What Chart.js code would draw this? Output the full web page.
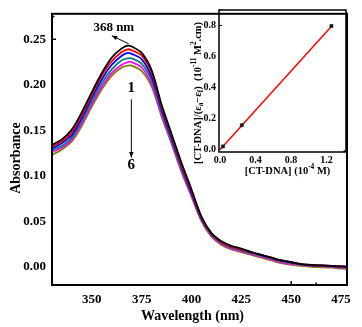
<!DOCTYPE html>
<html>
<head>
<meta charset="utf-8">
<script src="https://cdn.jsdelivr.net/npm/chart.js@4.4.1/dist/chart.umd.min.js"></script>
<style>
  html, body { margin: 0; padding: 0; background: #fff; }
  #wrap { position: relative; width: 362px; height: 327px; }
  #main { position: absolute; left: 0; top: 0; }
  #inset { position: absolute; left: 186px; top: 0; }
</style>
</head>
<body>
<div id="wrap">
  <canvas id="main" width="362" height="327"></canvas>
  <canvas id="inset" width="166" height="180"></canvas>
</div>
<script>
// spectra (absorbance vs wavelength), 6 titration steps
const wavelengths = [330, 335, 340, 345, 350, 355, 360, 365, 368, 370, 375, 380, 385, 390, 395, 400,
  405, 410, 415, 420, 425, 430, 435, 440, 445, 450, 455, 460, 465, 470, 475, 478];

const abs1 = [.134, .140, .151, .170, .192, .213, .230, .240, .243, .242, .235, .216, .178, .146, .114, .085,
  .055, .037, .028, .023, .020, .016, .013, .010, .007, .005, .003, .002, .0015, .001, .0005, 0];
const abs2 = [.132, .138, .148, .167, .189, .210, .226, .236, .239, .238, .232, .213, .176, .144, .112, .083,
  .054, .036, .027, .022, .019, .016, .013, .010, .007, .005, .003, .002, .0015, .001, .0005, 0];
const abs3 = [.130, .136, .145, .164, .186, .206, .222, .232, .235, .234, .228, .209, .173, .141, .110, .081,
  .053, .036, .027, .022, .019, .016, .013, .010, .007, .005, .003, .002, .0015, .001, .0005, .0005];
const abs4 = [.128, .133, .142, .161, .182, .202, .217, .227, .229, .229, .223, .205, .170, .139, .108, .080,
  .052, .035, .026, .021, .018, .015, .012, .009, .006, .004, .0025, .0015, .001, .0005, 0, -.0005];
const abs5 = [.126, .131, .140, .158, .179, .198, .213, .222, .225, .225, .219, .201, .167, .137, .106, .078,
  .051, .034, .025, .020, .017, .014, .011, .008, .005, .003, .002, .001, .0005, 0, -.001, -.0015];
const abs6 = [.123, .129, .138, .155, .176, .195, .210, .219, .221, .221, .215, .198, .165, .135, .104, .077,
  .050, .033, .024, .019, .016, .013, .010, .007, .004, .002, .001, 0, -.0005, -.001, -.002, -.0025];

const seriesColors = ['#000000', '#ff0000', '#0000ff', '#008080', '#ff00ff', '#808000'];
const xTicks = [350, 375, 400, 425, 450, 475];
const yTicks = [0, 0.05, 0.10, 0.15, 0.20, 0.25];

// inset: [CT-DNA]/(ea-ef) vs [CT-DNA]
const concDNA = [0.034, 0.247, 1.256];
const ratioDNA = [0.021, 0.158, 0.797];
const fitX = [0, 1.26];
const fitY = [0, 0.797];
const insetXTicks = [0, 0.4, 0.8, 1.2];
const insetYTicks = [0, 0.2, 0.4, 0.6, 0.8];

const SERIF = '"Liberation Serif", "Times New Roman", serif';

function arrow(ctx, x1, y1, x2, y2, head) {
  ctx.beginPath();
  ctx.moveTo(x1, y1);
  ctx.lineTo(x2, y2);
  ctx.stroke();
  const a = Math.atan2(y2 - y1, x2 - x1);
  ctx.beginPath();
  ctx.moveTo(x2, y2);
  ctx.lineTo(x2 - head * Math.cos(a - 0.38), y2 - head * Math.sin(a - 0.38));
  ctx.lineTo(x2 - head * Math.cos(a + 0.38), y2 - head * Math.sin(a + 0.38));
  ctx.closePath();
  ctx.fill();
}

// text with sub/superscripts, centred on (x, y), optionally rotated
function richText(ctx, parts, x, y, size, rot) {
  const small = size * 0.7;
  let total = 0;
  parts.forEach(p => {
    ctx.font = 'bold ' + (p[1] ? small : size) + 'px ' + SERIF;
    total += ctx.measureText(p[0]).width;
  });
  ctx.save();
  ctx.translate(x, y);
  ctx.rotate(rot || 0);
  ctx.textBaseline = 'middle';
  ctx.textAlign = 'left';
  let cx = -total / 2;
  parts.forEach(p => {
    ctx.font = 'bold ' + (p[1] ? small : size) + 'px ' + SERIF;
    let dy = 0;
    if (p[1] === 'sup') dy = -size * 0.35;
    if (p[1] === 'sub') dy = size * 0.3;
    ctx.fillText(p[0], cx, dy);
    cx += ctx.measureText(p[0]).width;
  });
  ctx.restore();
}

function inwardTicks(ctx, scale, values, len, horizontal, edge) {
  values.forEach(v => {
    const p = scale.getPixelForValue(v);
    if (p < scale.left - 1 || p > scale.right + 1 || p < scale.top - 1 || p > scale.bottom + 1) return;
    ctx.beginPath();
    if (horizontal) { ctx.moveTo(p, edge); ctx.lineTo(p, edge - len); }
    else { ctx.moveTo(edge, p); ctx.lineTo(edge + len, p); }
    ctx.stroke();
  });
}

const mainDecor = {
  id: 'mainDecor',
  afterDraw(chart) {
    const { ctx, chartArea: a, scales: { x, y } } = chart;
    ctx.save();
    ctx.strokeStyle = '#000';
    ctx.fillStyle = '#000';
    ctx.lineWidth = 2;
    ctx.strokeRect(a.left, a.top, a.right - a.left, a.bottom - a.top);
    ctx.lineWidth = 1.5;
    inwardTicks(ctx, x, xTicks, 4, true, a.bottom);
    inwardTicks(ctx, x, xTicks.map(v => v - 12.5).concat([487.5]), 2.5, true, a.bottom);
    inwardTicks(ctx, y, yTicks, 4, false, a.left);
    inwardTicks(ctx, y, yTicks.map(v => v + 0.025).concat([-0.025]), 2.5, false, a.left);

    // axis titles
    ctx.textAlign = 'center';
    ctx.textBaseline = 'middle';
    ctx.font = 'bold 14px ' + SERIF;
    ctx.fillText('Wavelength (nm)', (a.left + a.right) / 2 - 7, 316);
    ctx.save();
    ctx.translate(16, 158);
    ctx.rotate(-Math.PI / 2);
    ctx.fillText('Absorbance', 0, 0);
    ctx.restore();

    // peak label
    ctx.font = 'bold 13px ' + SERIF;
    ctx.fillText('368 nm', x.getPixelForValue(361), y.getPixelForValue(0.263));
    ctx.lineWidth = 1;
    arrow(ctx, x.getPixelForValue(368.5), y.getPixelForValue(0.245),
      x.getPixelForValue(360), y.getPixelForValue(0.254), 6);

    // trend arrow 1 -> 6
    const ax = x.getPixelForValue(369.8);
    ctx.font = 'bold 15px ' + SERIF;
    ctx.fillStyle = '#000';
    ctx.fillText('1', ax, y.getPixelForValue(0.196));
    ctx.fillText('6', ax, y.getPixelForValue(0.112));
    arrow(ctx, ax, y.getPixelForValue(0.184), ax, y.getPixelForValue(0.12), 6);
    ctx.restore();
  }
};

new Chart(document.getElementById('main'), {
  type: 'line',
  data: {
    labels: wavelengths,
    datasets: [abs1, abs2, abs3, abs4, abs5, abs6].map((vals, i) => ({
      data: vals.map((v, j) => ({ x: wavelengths[j], y: v })),
      borderColor: seriesColors[i],
      borderWidth: 1.8,
      pointRadius: 0,
      tension: 0.3,
      fill: false
    }))
  },
  options: {
    responsive: false,
    animation: false,
    layout: { padding: { top: 10, right: 15, left: 0, bottom: 0 } },
    plugins: { legend: { display: false }, tooltip: { enabled: false } },
    scales: {
      x: {
        type: 'linear', min: 330, max: 478,
        afterBuildTicks: s => { s.ticks = xTicks.map(v => ({ value: v })); },
        afterFit: s => { s.height = 42; },
        grid: { display: false, drawTicks: false },
        border: { display: false },
        ticks: { padding: 7, color: '#000', autoSkip: false, maxRotation: 0,
          font: { family: SERIF, weight: 'bold', size: 13 } }
      },
      y: {
        min: -0.02, max: 0.278,
        afterBuildTicks: s => { s.ticks = yTicks.map(v => ({ value: v })); },
        afterFit: s => { s.width = 52; },
        grid: { display: false, drawTicks: false },
        border: { display: false },
        ticks: { padding: 6, color: '#000', callback: v => v.toFixed(2),
          font: { family: SERIF, weight: 'bold', size: 13 } }
      }
    }
  },
  plugins: [mainDecor]
});

const insetDecor = {
  id: 'insetDecor',
  afterDraw(chart) {
    const { ctx, chartArea: a, scales: { x, y } } = chart;
    ctx.save();
    ctx.strokeStyle = '#000';
    ctx.fillStyle = '#000';
    ctx.lineWidth = 1.5;
    ctx.strokeRect(a.left, a.top, a.right - a.left, a.bottom - a.top);
    ctx.lineWidth = 1;
    inwardTicks(ctx, x, insetXTicks, 3, true, a.bottom);
    inwardTicks(ctx, x, insetXTicks.map(v => v + 0.2), 2, true, a.bottom);
    inwardTicks(ctx, y, insetYTicks, 3, false, a.left);
    inwardTicks(ctx, y, insetYTicks.map(v => v + 0.1), 2, false, a.left);

    richText(ctx, [['[CT-DNA] (10'], ['-4', 'sup'], [' M)']],
      (a.left + a.right) / 2 + 5, a.bottom + 19, 10.5, 0);
    richText(ctx, [['[CT-DNA]/('], ['ε'], ['a', 'sub'], ['−ε'], ['f', 'sub'], [')  (10'], ['-11', 'sup'],
      [' M'], ['2', 'sup'], ['.cm)']], a.left - 21, 93, 10.5, -Math.PI / 2);
    ctx.restore();
  }
};

new Chart(document.getElementById('inset'), {
  type: 'scatter',
  data: {
    datasets: [
      {
        data: concDNA.map((v, i) => ({ x: v, y: ratioDNA[i] })),
        pointStyle: 'rect', pointRadius: 2.2,
        backgroundColor: '#111', borderColor: '#111', borderWidth: 0.5,
        showLine: false
      },
      {
        data: fitX.map((v, i) => ({ x: v, y: fitY[i] })),
        showLine: true, borderColor: '#ff0000', borderWidth: 1.5,
        pointRadius: 0
      }
    ]
  },
  options: {
    responsive: false,
    animation: false,
    layout: { padding: { top: 10, right: 6, left: 0, bottom: 0 } },
    plugins: { legend: { display: false }, tooltip: { enabled: false } },
    scales: {
      x: {
        type: 'linear', min: -0.01, max: 1.42,
        afterBuildTicks: s => { s.ticks = insetXTicks.map(v => ({ value: v })); },
        afterFit: s => { s.height = 28; },
        grid: { display: false, drawTicks: false },
        border: { display: false },
        ticks: { padding: 2, color: '#000', autoSkip: false, maxRotation: 0,
          callback: v => v.toFixed(1),
          font: { family: SERIF, weight: 'bold', size: 10 } }
      },
      y: {
        min: -0.015, max: 0.9,
        afterBuildTicks: s => { s.ticks = insetYTicks.map(v => ({ value: v })); },
        afterFit: s => { s.width = 33; },
        grid: { display: false, drawTicks: false },
        border: { display: false },
        ticks: { padding: 3, color: '#000', callback: v => v.toFixed(1),
          font: { family: SERIF, weight: 'bold', size: 10 } }
      }
    }
  },
  plugins: [insetDecor]
});
</script>
</body>
</html>
